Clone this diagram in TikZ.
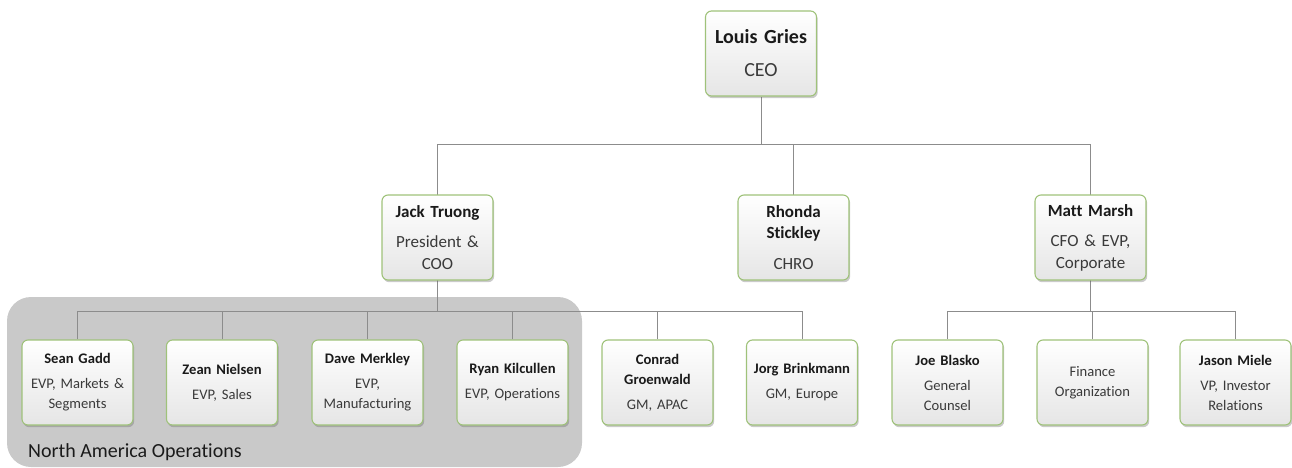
\documentclass[tikz,border=0pt]{standalone}
\usepackage{fontspec}
\setmainfont{Carlito}[Ligatures=NoCommon]
\usetikzlibrary{shadows}
\definecolor{boxedge}{HTML}{9FC27A}
\definecolor{wire}{HTML}{8C8C8C}
\definecolor{regionfill}{HTML}{C9C9C9}
\definecolor{ink}{HTML}{1A1A1A}
\definecolor{subink}{HTML}{3A3A3A}
\newcommand{\person}[3][5pt]{{\bfseries #2}\\[#1]{\color{subink}#3}}
\begin{document}
\begin{tikzpicture}[x=1pt,y=-1pt,
  card/.style={draw=boxedge, line width=1.1pt, rounded corners=6pt,
    top color=white, bottom color=black!10, text=ink,
    minimum width=111pt, minimum height=85pt, inner sep=2pt,
    align=center, text width=106pt,
    drop shadow={shadow xshift=1.2pt, shadow yshift=-2.2pt, fill=black!60, opacity=0.35}},
  topcard/.style={card, font=\fontsize{20}{24}\selectfont},
  midcard/.style={card, font=\fontsize{17}{21.5}\selectfont},
  lowcard/.style={card, font=\fontsize{14.6}{20}\selectfont},
  wireline/.style={draw=wire, line width=1pt}]
\useasboundingbox (0,0) rectangle (1292,468);

% North America Operations region
\fill[regionfill, rounded corners=24pt] (7,297) rectangle (582,467);
\node[anchor=base west, font=\fontsize{20}{22}\selectfont, text=ink, inner sep=0pt]
  (naregion) at (28,457) {North America Operations};

% bus points
\coordinate (busA) at (761,144);
\coordinate (busB) at (437.5,311);
\coordinate (busC) at (1090.5,311);

% connectors (drawn first, cards on top)
\draw[wireline] (761,97) -- (busA);
\draw[wireline] (437.5,195) |- (busA);
\draw[wireline] (793.5,195) -- (793.5,144);
\draw[wireline] (1090.5,195) |- (busA);
\draw[wireline] (437.5,280) -- (busB);
\draw[wireline] (1090.5,280) -- (busC);

% CEO
\node[topcard] (ceo) at (761,53.5) {\person[9pt]{Louis Gries}{CEO}};

% second level
\node[midcard] (jack) at (437.5,237.5) {\person[9pt]{Jack Truong}{President \&\\COO}};
\node[midcard] (rhonda) at (793.5,237.5) {\person[9pt]{Rhonda\\Stickley}{CHRO}};
\node[midcard] (matt) at (1090.5,237.5) {\person[9pt]{Matt Marsh}{CFO \& EVP,\\Corporate}};

% third level
\node[lowcard] (sean) at (77.5,382.5) {\person{Sean Gadd}{EVP, Markets \&\\Segments}};
\node[lowcard] (zean) at (222,382.5) {\person{Zean Nielsen}{EVP, Sales}};
\node[lowcard] (dave) at (367.5,382.5) {\person{Dave Merkley}{EVP,\\Manufacturing}};
\node[lowcard] (ryan) at (512.5,382.5) {\person{Ryan Kilcullen}{EVP, Operations}};
\node[lowcard] (conrad) at (657.5,382.5) {\person{Conrad\\Groenwald}{GM, APAC}};
\node[lowcard] (jorg) at (802,382.5) {\person{Jorg Brinkmann}{GM, Europe}};
\node[lowcard] (joe) at (947.5,382.5) {\person{Joe Blasko}{General\\Counsel}};
\node[lowcard] (finance) at (1092.5,382.5) {{\color{subink}Finance\\Organization}};
\node[lowcard] (jason) at (1235.5,382.5) {\person{Jason Miele}{VP, Investor\\Relations}};

% third-level connectors
\foreach \n in {sean,zean,dave,ryan,conrad,jorg}
  \draw[wireline] (\n.north) |- (busB);
\foreach \n in {joe,jason}
  \draw[wireline] (\n.north) |- (busC);
\draw[wireline] (finance.north) -- (finance.north |- busC);
\end{tikzpicture}
\end{document}
